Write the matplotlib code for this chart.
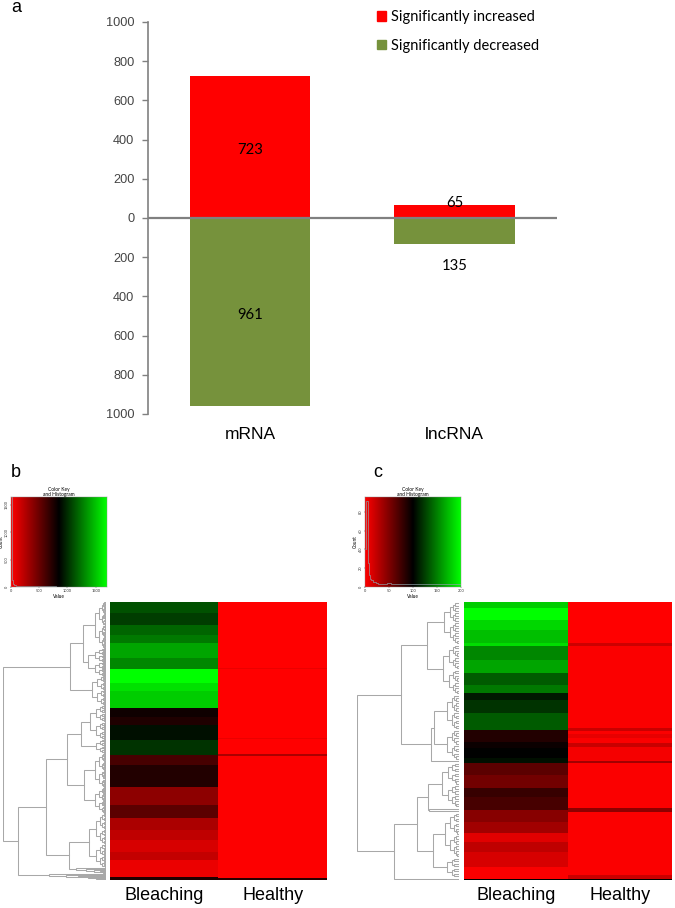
import numpy as np
import matplotlib
matplotlib.use('Agg')
import matplotlib.pyplot as plt
from matplotlib.colors import LinearSegmentedColormap
from matplotlib.patches import Patch

W, H = 675, 908

categories = ['mRNA', 'lncRNA']
increased = [723, 65]
decreased = [961, 135]
bar_ticks = [-1000, -800, -600, -400, -200, 0, 200, 400, 600, 800, 1000]

# heatmap bands: intensity (-255 red .. 255 green) and thickness of each band
b_bleach_vals = [80, 60, 100, 120, 165, 135, 255, 225, 205, -15, -30, 15, 50, -70, -35,
                 -140, -90, -170, -190, -215, -195, -235, -30]
b_bleach_size = [33, 37, 28, 25, 45, 32, 43, 25, 51, 25, 25, 45, 45, 30, 65,
                 55, 40, 35, 30, 35, 25, 50, 10]
b_healthy_vals = [-255, -235, -255, -235, -255, -170, -252, -40]
b_healthy_size = [198, 4, 205, 4, 46, 5, 366, 6]

c_bleach_vals = [205, 255, 215, 190, 220, 135, 165, 90, 120, 25, 50, 90, -35, -10, 0, 15,
                 -90, -115, -55, -70, -135, -160, -225, -190, -215, -250, 0]
c_bleach_size = [18, 35, 30, 40, 10, 40, 40, 35, 25, 21, 40, 50, 35, 20, 30, 13,
                 37, 40, 25, 40, 35, 35, 25, 30, 45, 37, 3]
c_healthy_vals = [-255, -205, -250, -200, -250, -230, -250, -200, -245, -160, -250, -140,
                  -250, -200, 0]
c_healthy_size = [123, 10, 246, 7, 11, 12, 15, 10, 43, 5, 137, 12, 188, 12, 3]

# colour key histograms (bin edges, counts)
b_hist_x = [0, 15, 30, 50, 80, 120, 200, 400, 800, 1200, 1700]
b_hist_y = [1640, 130, 60, 35, 22, 15, 12, 10, 8, 8]
c_hist_x = [0, 2.5, 6, 8, 10, 13, 17, 22, 28, 35, 45, 55, 65, 100, 200]
c_hist_y = [40, 91, 26, 13, 9, 7, 5, 4, 3, 3, 4, 3, 3, 3]

# dendrograms: (height, left, right) = merge, (height, n) = clump of n leaves, None = leaf
b_ladder_low = (30, None, (20, None, (12, None, (6, None, (3, None, None)))))
b_ladder_top = (40, None, (28, None, (18, None, (10, None, (5, None, None)))))
b_tree = (103,
          (36,
           (23, (11, 48), (18, 28)),
           (14, 30)),
          (88,
           (60,
            (39,
             (25, (16, 36), (10, 14)),
             (22, (11, 36), (11, 26))),
            (37,
             (17, (10, 32), (10, 24)),
             b_ladder_low)),
           (57, None, b_ladder_top)))
c_tree = (102,
          (58,
           (32, (15, 17), (16, 20)),
           (28,
            (25, (12, 14), (12, 12)),
            None)),
          (65,
           (42,
            (31, (17, 18), (30, None, None)),
            (26, (14, 18), (12, 8))),
           None))

rg = LinearSegmentedColormap.from_list('rg', ['#ff0000', '#000000', '#00ff00'])


def px_axes(x0, y0, x1, y1):
    return fig.add_axes([x0 / W, 1 - y1 / H, (x1 - x0) / W, (y1 - y0) / H])


def expand(vals, sizes):
    return np.repeat(vals, sizes)


def count_leaves(node):
    if node is None:
        return 1
    if len(node) == 2:
        return node[1]
    return count_leaves(node[1]) + count_leaves(node[2])


def draw_tree(ax, node, start=0):
    # returns (height, y position) of the node
    if node is None:
        return 0, start + 0.5
    if len(node) == 2:
        h, n = node
        if n == 1:
            return 0, start + 0.5
        left = (h * 0.62, n // 2)
        right = (h * 0.62, n - n // 2)
    else:
        h, left, right = node
    h1, y1 = draw_tree(ax, left, start)
    h2, y2 = draw_tree(ax, right, start + count_leaves(left))
    ax.plot([h1, h, h, h2], [y1, y1, y2, y2], color='#a8a8a8', lw=0.75, solid_joinstyle='miter')
    return h, (y1 + y2) / 2


def dendro(tree, box):
    ax = px_axes(*box)
    draw_tree(ax, tree)
    ax.set_xlim(tree[0], 0)
    ax.set_ylim(count_leaves(tree), 0)
    ax.axis('off')


def heat(box, bleach, healthy):
    ax = px_axes(*box)
    data = np.column_stack([bleach, healthy])
    ax.imshow(data, aspect='auto', cmap=rg, vmin=-255, vmax=255, interpolation='nearest')
    ax.set_xticks([0, 1])
    ax.set_xticklabels(['Bleaching', 'Healthy'], fontsize=13, family='Liberation Sans')
    ax.set_yticks([])
    ax.tick_params(axis='x', length=0, pad=5)
    for s in ax.spines.values():
        s.set_visible(False)


def color_key(box, hx, hy, xticks, yticks, xmax, ymax):
    ax = px_axes(*box)
    grad = np.linspace(-255, 255, 256)[None, :]
    ax.imshow(grad, aspect='auto', cmap=rg, vmin=-255, vmax=255, extent=[0, xmax, 0, ymax])
    ax.stairs(hy, hx, color='#8fa0a8', lw=0.6, alpha=0.8, baseline=None)
    ax.set_xlim(0, xmax)
    ax.set_ylim(0, ymax)
    ax.set_xticks(xticks)
    ax.set_yticks(yticks)
    ax.tick_params(labelsize=2.8, length=1, width=0.3, pad=0.5, colors='#333333')
    plt.setp(ax.get_yticklabels(), rotation=90, va='center')
    ax.set_xlabel('Value', fontsize=3.4, labelpad=1)
    ax.set_ylabel('Count', fontsize=3.4)
    ax.yaxis.set_label_coords(-0.073, 0.5)
    ax.set_title('Color Key\nand Histogram', fontsize=3.5, pad=0.3, linespacing=1.0)
    for s in ax.spines.values():
        s.set_linewidth(0.3)
        s.set_color('#888888')


fig = plt.figure(figsize=(W / 100, H / 100), dpi=100)
plt.rcParams['font.family'] = 'Lato'

# panel a
ax = px_axes(148, 22, 557, 414)
x = np.arange(len(categories))
ax.bar(x, increased, width=0.59, color='#ff0000')
ax.bar(x, [-v for v in decreased], width=0.59, color='#76923c')
ax.axhline(0, color='#808080', lw=1.6)
ax.set_xlim(-0.499, 1.5)
ax.set_ylim(-1000, 1000)
ax.set_yticks(bar_ticks)
ax.set_yticklabels([str(abs(t)) for t in bar_ticks], fontsize=9.2, color='#444444', family='Liberation Sans')
ax.set_xticks(x)
ax.set_xticklabels(categories, fontsize=12.5, family='Liberation Sans')
ax.tick_params(axis='x', length=0, pad=9.5)
ax.tick_params(axis='y', length=4.3, width=1.0, color='#808080', pad=5.5)
for s in ['top', 'right', 'bottom']:
    ax.spines[s].set_visible(False)
ax.spines['left'].set_color('#808080')
ax.spines['left'].set_linewidth(1.2)
value_labels = [(0, increased[0] / 2, increased[0], -2.2), (0, -decreased[0] / 2, decreased[0], -2.2),
                (1, increased[1], increased[1], 1.7), (1, -decreased[1], decreased[1], -15.5)]
for xpos, ypos, val, off in value_labels:
    ax.annotate(str(val), (xpos, ypos), xytext=(0, off), textcoords='offset points',
                ha='center', va='center', fontsize=10.7)
handles = [Patch(color='#ff0000', label='Significantly increased'),
           Patch(color='#76923c', label='Significantly decreased')]
fig.legend(handles=handles, loc='upper left', bbox_to_anchor=(377 / W, 1 - 10 / H), frameon=False,
           fontsize=10.5, handlelength=0.62, handleheight=0.62, handletextpad=0.36,
           labelspacing=1.0, borderpad=0, borderaxespad=0)

# panels b and c
color_key((11, 497, 107, 587), b_hist_x, b_hist_y, [0, 500, 1000, 1500], [0, 500, 1000, 1500], 1700, 1644)
color_key((365, 497, 461, 587), c_hist_x, c_hist_y, [0, 50, 100, 150, 200], [0, 20, 40, 60, 80], 200, 95.7)
dendro(b_tree, (3, 602, 106, 880))
dendro(c_tree, (357, 602, 459, 880))
heat((110, 602, 327, 880), expand(b_bleach_vals, b_bleach_size), expand(b_healthy_vals, b_healthy_size))
heat((464, 602, 672, 880), expand(c_bleach_vals, c_bleach_size), expand(c_healthy_vals, c_healthy_size))

for label, px, py in [('a', 11, 8), ('b', 11, 472), ('c', 373, 472)]:
    fig.text(px / W, 1 - py / H, label, fontsize=13, family='Liberation Sans', ha='left', va='center')

fig.savefig('out.png', dpi=100)
